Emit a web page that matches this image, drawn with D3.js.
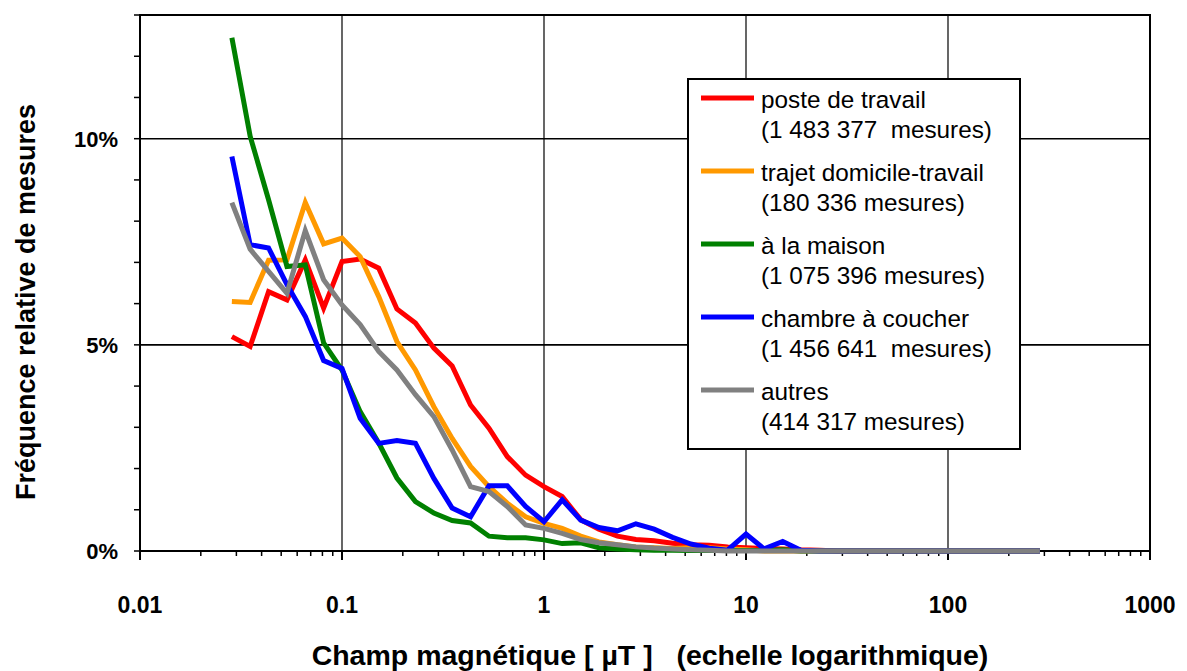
<!DOCTYPE html>
<html>
<head>
<meta charset="utf-8">
<script src="https://cdn.jsdelivr.net/npm/d3@7"></script>
<style>
  body { margin: 0; background: #fff; }
  text { font-family: "Liberation Sans", Arial, sans-serif; white-space: pre; }
</style>
</head>
<body>
<script>
// field values (µT), bin centres on the log axis
var field = [0.0285, 0.0351, 0.0433, 0.0534, 0.0658, 0.0811, 0.1, 0.123, 0.152, 0.187, 0.231,
  0.285, 0.351, 0.433, 0.534, 0.658, 0.811, 1, 1.23, 1.52, 1.87, 2.31, 2.85, 3.51, 4.33,
  5.34, 6.58, 8.11, 10, 12.3, 15.2, 18.7, 23.1, 28.5, 35.1, 43.3, 53.4, 65.8, 81.1, 100,
  123, 152, 187, 231, 285];

// relative frequency in %
var poste = [5.2, 4.96, 6.29, 6.09, 7.06, 5.89, 7.02, 7.08, 6.86, 5.87, 5.53, 4.92, 4.49, 3.54,
  2.98, 2.29, 1.84, 1.56, 1.32, 0.76, 0.53, 0.36, 0.28, 0.25, 0.19, 0.15, 0.14, 0.1, 0.08,
  0.06, 0.05, 0.03, 0.02, 0, 0, 0, 0, 0, 0, 0, 0, 0, 0, 0, 0];
var trajet = [6.05, 6.03, 7.05, 7.06, 8.45, 7.45, 7.59, 7.14, 6.17, 5.08, 4.39, 3.5, 2.73, 2.05,
  1.56, 1.16, 0.83, 0.67, 0.55, 0.36, 0.22, 0.15, 0.1, 0.08, 0.06, 0.08, 0.08, 0.05, 0.03,
  0, 0, 0, 0, 0, 0, 0, 0, 0, 0, 0, 0, 0, 0, 0, 0];
var maison = [12.45, 10.06, 8.52, 6.9, 6.94, 5.05, 4.39, 3.38, 2.62, 1.77, 1.2, 0.92, 0.74, 0.68,
  0.36, 0.32, 0.32, 0.27, 0.18, 0.2, 0.08, 0.05, 0.03, 0.02, 0.02, 0.01, 0.01, 0.01, 0.01,
  0.01, 0.03, 0, 0, 0, 0, 0, 0, 0, 0, 0, 0, 0, 0, 0, 0];
var chambre = [9.57, 7.43, 7.35, 6.46, 5.69, 4.62, 4.43, 3.22, 2.61, 2.68, 2.61, 1.76, 1.04, 0.83,
  1.58, 1.58, 1.08, 0.71, 1.24, 0.75, 0.57, 0.49, 0.66, 0.53, 0.33, 0.17, 0.07, 0.02, 0.41,
  0.05, 0.23, 0.02, 0, 0, 0, 0, 0, 0, 0, 0, 0, 0, 0, 0, 0];
var autres = [8.45, 7.32, 6.78, 6.25, 7.77, 6.58, 5.97, 5.49, 4.84, 4.39, 3.79, 3.26, 2.45, 1.56,
  1.44, 1.08, 0.63, 0.55, 0.43, 0.28, 0.2, 0.15, 0.1, 0.07, 0.05, 0.03, 0.02, 0, 0,
  0, 0, 0, 0, 0, 0, 0, 0, 0, 0, 0, 0, 0, 0, 0, 0];

var seriesNames = ["poste de travail", "trajet domicile-travail", "à la maison", "chambre à coucher", "autres"];
var seriesCounts = ["(1 483 377  mesures)", "(180 336 mesures)", "(1 075 396 mesures)", "(1 456 641  mesures)", "(414 317 mesures)"];
var seriesColors = ["#ff0000", "#ff9900", "#008000", "#0000ff", "#808080"];
var seriesValues = [poste, trajet, maison, chambre, autres];

var xTickValues = [0.01, 0.1, 1, 10, 100, 1000];
var xTickLabels = ["0.01", "0.1", "1", "10", "100", "1000"];
var yTickValues = [0, 5, 10];

var W = 1187, H = 671;
var m = {left: 140, right: 1150, top: 15, bottom: 551};

var svg = d3.select("body").append("svg")
  .attr("width", W)
  .attr("height", H);

var x = d3.scaleLog().domain([0.01, 1000]).range([m.left, m.right]);
var y = d3.scaleLinear().domain([0, 13]).range([m.bottom, m.top]);

// grid lines
var minorY = d3.range(0, 14);
svg.append("g").selectAll("line")
  .data([5, 10])
  .enter().append("line")
  .attr("x1", m.left).attr("x2", m.right)
  .attr("y1", d => y(d)).attr("y2", d => y(d))
  .attr("stroke", "#000").attr("stroke-width", 1.6);
svg.append("g").selectAll("line")
  .data([0.1, 1, 10, 100])
  .enter().append("line")
  .attr("x1", d => x(d)).attr("x2", d => x(d))
  .attr("y1", m.top).attr("y2", m.bottom)
  .attr("stroke", "#000").attr("stroke-width", 1.2);

// frame
svg.append("rect")
  .attr("x", m.left).attr("y", m.top)
  .attr("width", m.right - m.left).attr("height", m.bottom - m.top)
  .attr("fill", "none").attr("stroke", "#000").attr("stroke-width", 2);

// y ticks
svg.append("g").selectAll("line")
  .data(minorY)
  .enter().append("line")
  .attr("x1", m.left - 6).attr("x2", m.left)
  .attr("y1", d => y(d)).attr("y2", d => y(d))
  .attr("stroke", "#000").attr("stroke-width", 1.5);
svg.append("g").selectAll("text")
  .data(yTickValues)
  .enter().append("text")
  .attr("x", m.left - 22)
  .attr("y", d => y(d) + 8)
  .attr("text-anchor", "end")
  .attr("font-size", 22).attr("font-weight", "bold")
  .text(d => d + "%");

// x ticks (log, minor 2..9)
var minorX = [];
[0.01, 0.1, 1, 10, 100].forEach(function (dec) {
  for (var k = 2; k <= 9; k++) minorX.push(dec * k);
});
svg.append("g").selectAll("line")
  .data(minorX)
  .enter().append("line")
  .attr("x1", d => x(d)).attr("x2", d => x(d))
  .attr("y1", m.bottom).attr("y2", m.bottom + 5)
  .attr("stroke", "#000").attr("stroke-width", 1.5);
svg.append("g").selectAll("line")
  .data(xTickValues)
  .enter().append("line")
  .attr("x1", d => x(d)).attr("x2", d => x(d))
  .attr("y1", m.bottom).attr("y2", m.bottom + 9)
  .attr("stroke", "#000").attr("stroke-width", 2);
svg.append("g").selectAll("text")
  .data(xTickValues)
  .enter().append("text")
  .attr("x", d => x(d))
  .attr("y", 613)
  .attr("text-anchor", "middle")
  .attr("font-size", 23).attr("font-weight", "bold")
  .text((d, i) => xTickLabels[i]);

// axis titles
svg.append("text")
  .attr("x", 650).attr("y", 665)
  .attr("text-anchor", "middle")
  .attr("font-size", 28.5).attr("font-weight", "bold")
  .text("Champ magnétique [ µT ]   (echelle logarithmique)");
svg.append("text")
  .attr("transform", "translate(35,302) rotate(-90)")
  .attr("text-anchor", "middle")
  .attr("font-size", 27).attr("font-weight", "bold")
  .text("Fréquence relative de mesures");

// series
var line = d3.line()
  .x((d, i) => x(field[i]))
  .y(d => y(d));
svg.append("g").selectAll("path")
  .data(seriesValues)
  .enter().append("path")
  .attr("d", line)
  .attr("fill", "none")
  .attr("stroke", (d, i) => seriesColors[i])
  .attr("stroke-width", 5)
  .attr("stroke-linejoin", "miter");

// legend
var lg = svg.append("g");
lg.append("rect")
  .attr("x", 688).attr("y", 79)
  .attr("width", 332).attr("height", 370)
  .attr("fill", "#fff").attr("stroke", "#000").attr("stroke-width", 2);
var rows = lg.selectAll("g.row")
  .data(seriesNames)
  .enter().append("g")
  .attr("class", "row")
  .attr("transform", (d, i) => "translate(0," + (98 + i * 73) + ")");
rows.append("line")
  .attr("x1", 701).attr("x2", 754)
  .attr("y1", 0).attr("y2", 0)
  .attr("stroke", (d, i) => seriesColors[i])
  .attr("stroke-width", 5);
rows.append("text")
  .attr("x", 761).attr("y", 10)
  .attr("font-size", 24.3)
  .text(d => d);
rows.append("text")
  .attr("x", 761).attr("y", 40)
  .attr("font-size", 24.3)
  .text((d, i) => seriesCounts[i]);
</script>
</body>
</html>
